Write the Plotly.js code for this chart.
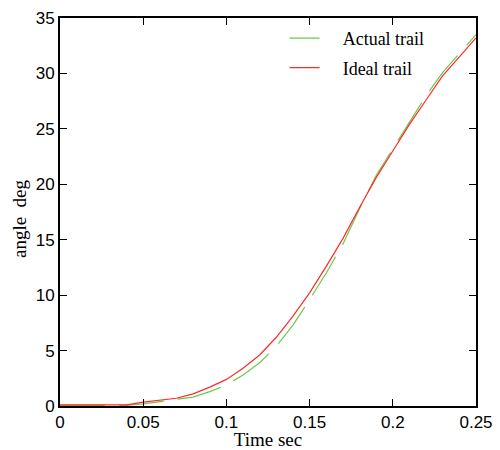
<!DOCTYPE html>
<html>
<head>
<meta charset="utf-8">
<script src="https://cdn.plot.ly/plotly-3.0.1.min.js"></script>
<style>body{margin:0;padding:0;background:#fff}#chart{width:500px;height:450px}</style>
</head>
<body>
<div id="chart"></div>
<script>
var timeIdeal = [0, 0.01, 0.02, 0.03, 0.04, 0.05, 0.06, 0.07, 0.08, 0.09, 0.1, 0.11, 0.12, 0.13, 0.14, 0.15, 0.16, 0.17, 0.18, 0.19, 0.2, 0.21, 0.22, 0.23, 0.24, 0.25];
var angleIdeal = [0.1, 0.1, 0.1, 0.1, 0.1, 0.35, 0.5, 0.7, 1.1, 1.7, 2.4, 3.4, 4.6, 6.2, 8.1, 10.2, 12.6, 15.1, 17.9, 20.6, 23.0, 25.4, 27.6, 29.8, 31.5, 33.2];
var timeActual = [0, 0.01, 0.02, 0.03, 0.04, 0.05, 0.06, 0.07, 0.08, 0.09, 0.1, 0.11, 0.12, 0.13, 0.14, 0.15, 0.16, 0.17, 0.18, 0.19, 0.2, 0.21, 0.22, 0.23, 0.24, 0.25];
var angleActual = [0.05, 0.05, 0.05, 0.05, 0.05, 0.2, 0.4, 0.55, 0.8, 1.3, 1.9, 2.8, 3.9, 5.4, 7.3, 9.6, 12.0, 14.6, 17.8, 20.8, 23.2, 25.7, 28.0, 30.1, 31.8, 33.5];
var seriesNames = ["Actual trail", "Ideal trail"];
var yTitle = "angle  deg";

var pad = "&nbsp;&nbsp;&nbsp;&nbsp;";
var traces = [
  {x: timeActual, y: angleActual, name: pad + seriesNames[0], mode: "lines", legendgroup: "a",
   line: {color: "#6cc84a", width: 1.2, dash: "45px,14px"}},
  {x: timeIdeal, y: angleIdeal, name: pad + seriesNames[1], mode: "lines", legendgroup: "b",
   line: {color: "#ff2a2a", width: 1.2}}
];

var serif = "Liberation Serif, Times New Roman, serif";
var sans = "Liberation Sans, Arial, sans-serif";

var layout = {
  width: 500, height: 450,
  margin: {l: 60, r: 24, t: 18, b: 44},
  paper_bgcolor: "#fff", plot_bgcolor: "#fff",
  showlegend: true,
  legend: {x: 0.54, y: 0.995, xanchor: "left", yanchor: "top", bgcolor: "rgba(0,0,0,0)",
           font: {family: serif, size: 18, color: "#000"},
           tracegroupgap: 3, itemwidth: 30},
  xaxis: {range: [0, 0.25], tickvals: [0, 0.05, 0.1, 0.15, 0.2, 0.25],
          ticktext: ["0", "0.05", "0.1", "0.15", "0.2", "0.25"],
          ticks: "inside", ticklen: 7, tickwidth: 1, tickcolor: "#000",
          showline: true, linecolor: "#000", linewidth: 2, mirror: "ticks",
          showgrid: false, zeroline: false,
          tickfont: {family: sans, size: 17, color: "#000"},
          title: {text: "Time sec", standoff: 6,
                  font: {family: serif, size: 19, color: "#000"}}},
  yaxis: {range: [0, 35], tickvals: [0, 5, 10, 15, 20, 25, 30, 35],
          ticks: "inside", ticklen: 7, tickwidth: 1, tickcolor: "#000",
          showline: true, linecolor: "#000", linewidth: 2, mirror: "ticks",
          showgrid: false, zeroline: false,
          tickfont: {family: sans, size: 17, color: "#000"}},
  annotations: [{text: yTitle, xref: "paper", yref: "paper", x: -0.096, y: 0.482,
                 xanchor: "center", yanchor: "middle", textangle: -90, showarrow: false,
                 font: {family: serif, size: 19, color: "#000"}}]
};

Plotly.newPlot("chart", traces, layout, {displayModeBar: false, staticPlot: true});
</script>
</body>
</html>
